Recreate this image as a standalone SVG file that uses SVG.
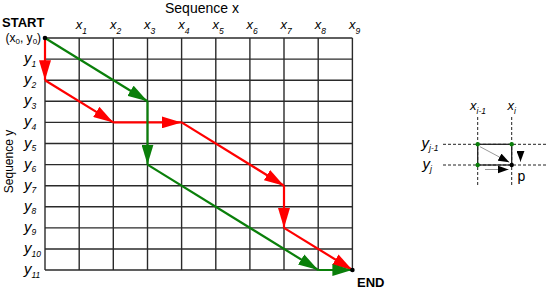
<svg xmlns="http://www.w3.org/2000/svg" width="550" height="290" viewBox="0 0 550 290">
<style>
text{font-family:"Liberation Sans",Arial,sans-serif;fill:#000}
.lab{font-size:13px;font-style:italic}
.ylab{font-size:15px;font-style:italic}
.sub{font-size:8.5px;font-style:italic}
.grid line{stroke:#2a2a2a;stroke-width:1.4}
.red{stroke:#ff0000;stroke-width:2.2;fill:none}
.green{stroke:#0a7f0a;stroke-width:2.2;fill:none}
.dash{stroke:#222;stroke-width:1;stroke-dasharray:3,2}
.thin{stroke:#999;stroke-width:1}
</style>
<defs>
<marker id="ar" markerUnits="userSpaceOnUse" viewBox="0 0 20 12" markerWidth="20" markerHeight="12" refX="20" refY="6" orient="auto"><path d="M0,0L20,6L0,12z" fill="#ff0000"/></marker>
<marker id="ag" markerUnits="userSpaceOnUse" viewBox="0 0 20 12" markerWidth="20" markerHeight="12" refX="20" refY="6" orient="auto"><path d="M0,0L20,6L0,12z" fill="#0a7f0a"/></marker>
<marker id="ak" markerUnits="userSpaceOnUse" viewBox="0 0 11 8" markerWidth="11" markerHeight="8" refX="11" refY="4" orient="auto"><path d="M0,0L11,4L0,8z" fill="#000"/></marker>
</defs>

<g id="grid" class="grid">
<line x1="45" y1="38" x2="45" y2="270"/>
<line x1="79.2" y1="38" x2="79.2" y2="270"/>
<line x1="113.3" y1="38" x2="113.3" y2="270"/>
<line x1="147.5" y1="38" x2="147.5" y2="270"/>
<line x1="181.6" y1="38" x2="181.6" y2="270"/>
<line x1="215.8" y1="38" x2="215.8" y2="270"/>
<line x1="249.9" y1="38" x2="249.9" y2="270"/>
<line x1="284" y1="38" x2="284" y2="270"/>
<line x1="318.2" y1="38" x2="318.2" y2="270"/>
<line x1="352.4" y1="38" x2="352.4" y2="270"/>
<line x1="45" y1="38" x2="352.4" y2="38"/>
<line x1="45" y1="59.1" x2="352.4" y2="59.1"/>
<line x1="45" y1="80.2" x2="352.4" y2="80.2"/>
<line x1="45" y1="101.3" x2="352.4" y2="101.3"/>
<line x1="45" y1="122.4" x2="352.4" y2="122.4"/>
<line x1="45" y1="143.5" x2="352.4" y2="143.5"/>
<line x1="45" y1="164.6" x2="352.4" y2="164.6"/>
<line x1="45" y1="185.7" x2="352.4" y2="185.7"/>
<line x1="45" y1="206.8" x2="352.4" y2="206.8"/>
<line x1="45" y1="227.9" x2="352.4" y2="227.9"/>
<line x1="45" y1="249" x2="352.4" y2="249"/>
<line x1="45" y1="270" x2="352.4" y2="270"/>
</g>

<g id="titles">
<text x="165" y="13" font-size="14">Sequence x</text>
<text transform="translate(12.5,161.5) rotate(-90)" font-size="12" text-anchor="middle">Sequence y</text>
<text x="2" y="27" font-size="13" font-weight="bold">START</text>
<text x="5.5" y="41.5" font-size="12">(x<tspan font-size="8" dy="2.5">0</tspan><tspan dy="-2.5">, y</tspan><tspan font-size="8" dy="2.5">0</tspan><tspan dy="-2.5">)</tspan></text>
<text x="357" y="287" font-size="13" font-weight="bold">END</text>
</g>

<g id="xlabels">
<text class="lab" x="75.8" y="29.3">x<tspan class="sub" dy="4.5">1</tspan></text>
<text class="lab" x="109.9" y="29.3">x<tspan class="sub" dy="4.5">2</tspan></text>
<text class="lab" x="144.1" y="29.3">x<tspan class="sub" dy="4.5">3</tspan></text>
<text class="lab" x="178.2" y="29.3">x<tspan class="sub" dy="4.5">4</tspan></text>
<text class="lab" x="212.4" y="29.3">x<tspan class="sub" dy="4.5">5</tspan></text>
<text class="lab" x="246.5" y="29.3">x<tspan class="sub" dy="4.5">6</tspan></text>
<text class="lab" x="280.6" y="29.3">x<tspan class="sub" dy="4.5">7</tspan></text>
<text class="lab" x="314.8" y="29.3">x<tspan class="sub" dy="4.5">8</tspan></text>
<text class="lab" x="349" y="29.3">x<tspan class="sub" dy="4.5">9</tspan></text>
</g>

<g id="ylabels">
<text class="ylab" x="24" y="63.1">y<tspan class="sub" dy="3.5">1</tspan></text>
<text class="ylab" x="24" y="84.2">y<tspan class="sub" dy="3.5">2</tspan></text>
<text class="ylab" x="24" y="105.3">y<tspan class="sub" dy="3.5">3</tspan></text>
<text class="ylab" x="24" y="126.4">y<tspan class="sub" dy="3.5">4</tspan></text>
<text class="ylab" x="24" y="147.5">y<tspan class="sub" dy="3.5">5</tspan></text>
<text class="ylab" x="24" y="168.6">y<tspan class="sub" dy="3.5">6</tspan></text>
<text class="ylab" x="24" y="189.7">y<tspan class="sub" dy="3.5">7</tspan></text>
<text class="ylab" x="24" y="210.8">y<tspan class="sub" dy="3.5">8</tspan></text>
<text class="ylab" x="24" y="231.9">y<tspan class="sub" dy="3.5">9</tspan></text>
<text class="ylab" x="24" y="253">y<tspan class="sub" dy="3.5">10</tspan></text>
<text class="ylab" x="24" y="274">y<tspan class="sub" dy="3.5">11</tspan></text>
</g>

<g id="connectors">
<line class="red" x1="45" y1="38" x2="45" y2="80.2" marker-end="url(#ar)"/>
<line class="red" x1="45" y1="80.2" x2="113.3" y2="122.4" marker-end="url(#ar)"/>
<line class="red" x1="113.3" y1="122.4" x2="181.6" y2="122.4" marker-end="url(#ar)"/>
<line class="red" x1="181.6" y1="122.4" x2="284" y2="185.7" marker-end="url(#ar)"/>
<line class="red" x1="284" y1="185.7" x2="284" y2="227.9" marker-end="url(#ar)"/>
<line class="red" x1="284" y1="227.9" x2="352.4" y2="270" marker-end="url(#ar)"/>
<line class="green" x1="45" y1="38" x2="147.5" y2="101.3" marker-end="url(#ag)"/>
<line class="green" x1="147.5" y1="101.3" x2="147.5" y2="164.6" marker-end="url(#ag)"/>
<line class="green" x1="147.5" y1="164.6" x2="318.2" y2="270" marker-end="url(#ag)"/>
<line class="green" x1="318.2" y1="270" x2="352.4" y2="270" marker-end="url(#ag)"/>
</g>

<g id="endpoints">
<circle cx="45" cy="38" r="2.3" fill="#000"/>
<circle cx="352.4" cy="270" r="2.3" fill="#000"/>
</g>

<g id="detail">
<line class="dash" x1="477.7" y1="117" x2="477.7" y2="185"/>
<line class="dash" x1="511.7" y1="117" x2="511.7" y2="185"/>
<line class="dash" x1="443" y1="144.3" x2="547" y2="144.3"/>
<line class="dash" x1="443" y1="165" x2="547" y2="165"/>
<rect x="477.7" y="144.3" width="34" height="20.7" fill="none" stroke="#222" stroke-width="1.3"/>
<line class="thin" x1="480" y1="146.7" x2="509.3" y2="162.3" marker-end="url(#ak)"/>
<line class="thin" x1="485" y1="169.5" x2="508.5" y2="169.5" marker-end="url(#ak)"/>
<line class="thin" x1="520.5" y1="151.5" x2="520.5" y2="161.8" marker-end="url(#ak)"/>
<circle cx="477.7" cy="144.3" r="2.2" fill="#0a7f0a"/>
<circle cx="511.7" cy="144.3" r="2.2" fill="#0a7f0a"/>
<circle cx="477.7" cy="165" r="2.2" fill="#0a7f0a"/>
<circle cx="511.7" cy="165" r="2.2" fill="#000"/>
<text class="lab" x="470" y="109.5">x<tspan class="sub" dy="4">i-1</tspan></text>
<text class="lab" x="507.5" y="109.5">x<tspan class="sub" dy="4">i</tspan></text>
<text class="ylab" x="421.5" y="147.5">y<tspan class="sub" dy="3.5">j-1</tspan></text>
<text class="ylab" x="422.5" y="168.5">y<tspan class="sub" dy="3.5">j</tspan></text>
<text x="517.5" y="180.5" font-size="14">p</text>
</g>
</svg>
